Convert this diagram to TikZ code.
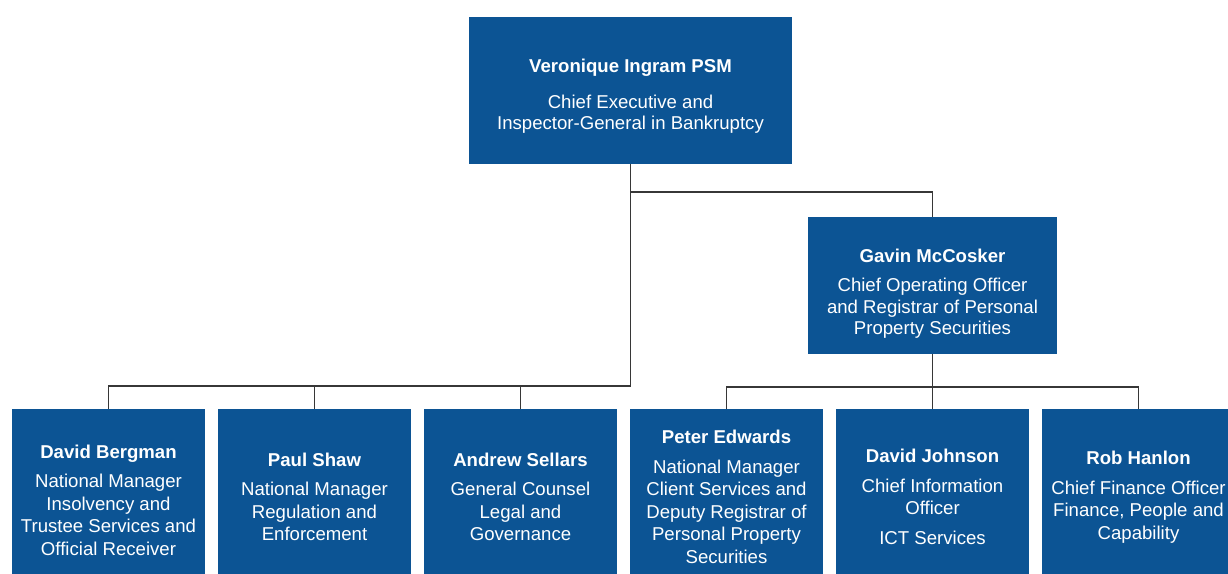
\documentclass[tikz,border=0pt]{standalone}
\usepackage{fontspec}
\setmainfont{Liberation Sans}
\definecolor{boxblue}{RGB}{12,84,148}
\definecolor{linegray}{RGB}{55,55,55}
\tikzset{
  orgbox/.style={fill=boxblue, text=white, align=center, inner sep=0pt},
  topbox/.style={orgbox, minimum width=323pt, minimum height=147pt, font=\fontsize{18.6}{21}\selectfont},
  midbox/.style={orgbox, minimum width=249pt, minimum height=137pt, font=\fontsize{18.6}{21.5}\selectfont},
  lowbox/.style={orgbox, minimum width=193pt, minimum height=176pt, font=\fontsize{18.6}{22.5}\selectfont},
  conn/.style={draw=linegray, line width=1.8pt}
}
\begin{document}
\begin{tikzpicture}[x=1pt, y=-1pt]
\clip (0,0) rectangle (1228,573);
\useasboundingbox (0,0) rectangle (1228,573);
\fill[white] (0,0) rectangle (1228,573);

\node[topbox] (top) at (630.5,90.5) {\rule{0pt}{24pt}{\bfseries Veronique Ingram PSM}\\[15pt]Chief Executive and\\Inspector-General in Bankruptcy};
\node[midbox] (gavin) at (932.5,285.5) {\rule{0pt}{29.5pt}{\bfseries Gavin McCosker}\\[8pt]Chief Operating Officer\\and Registrar of Personal\\Property Securities};

\node[lowbox] (bergman) at (108.5,497) {\rule{0pt}{19.5pt}{\bfseries David Bergman}\\[7pt]National Manager\\Insolvency and\\Trustee Services and\\Official Receiver};
\node[lowbox] (paul) at (314.5,497) {{\bfseries Paul Shaw}\\[7pt]National Manager\\Regulation and\\Enforcement};
\node[lowbox] (andrew) at (520.5,497) {{\bfseries Andrew Sellars}\\[7pt]General Counsel\\Legal and\\Governance};
\node[lowbox] (peter) at (726.5,497) {{\bfseries Peter Edwards}\\[7pt]National Manager\\Client Services and\\Deputy Registrar of\\Personal Property\\Securities};
\node[lowbox] (johnson) at (932.5,497) {{\bfseries David Johnson}\\[7pt]Chief Information\\Officer\\[7pt]ICT Services};
\node[lowbox] (rob) at (1138.5,497) {{\bfseries Rob Hanlon}\\[7pt]Chief Finance Officer\\Finance, People and\\Capability};

\coordinate (jL) at (630.5,386);
\coordinate (jG) at (630.5,192);
\coordinate (jR) at (932.5,387);

\draw[conn] (top.south) -- (jL) -| (bergman.north);
\draw[conn] (paul.north) -- (paul.north |- jL);
\draw[conn] (andrew.north) -- (andrew.north |- jL);
\draw[conn] (jG) -| (gavin.north);
\draw[conn] (gavin.south) -- (johnson.north);
\draw[conn] (peter.north) -- (peter.north |- jR) -- (rob.north |- jR) -- (rob.north);
\end{tikzpicture}
\end{document}
